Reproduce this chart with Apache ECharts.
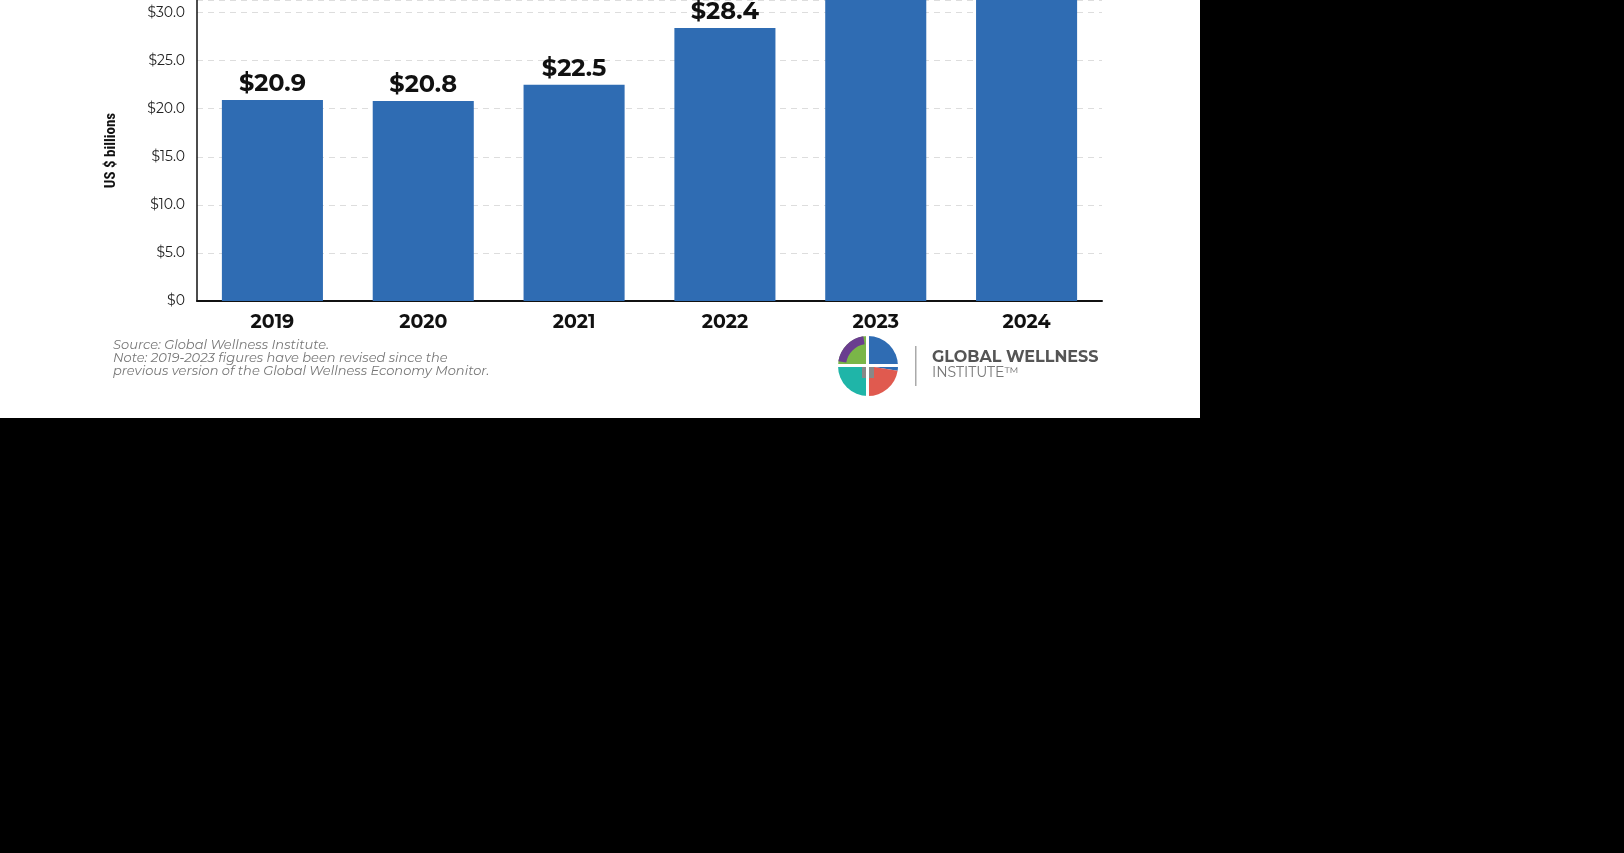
<!DOCTYPE html>
<html>
<head>
<meta charset="utf-8">
<script src="https://cdn.jsdelivr.net/npm/echarts@6/dist/echarts.min.js"></script>
<style>
  html, body { margin: 0; padding: 0; background: #000; width: 1624px; height: 853px; overflow: hidden; }
  #chart { width: 1200px; height: 418px; background: #fff; }
</style>
</head>
<body>
<div id="chart"></div>
<script>
// data (2023/2024 run past the cropped top, estimated)
const years = ["2019", "2020", "2021", "2022", "2023", "2024"];
const spending = [20.9, 20.8, 22.5, 28.4, 34.6, 36.9];
const notes = [
  "Source: Global Wellness Institute.",
  "Note: 2019-2023 figures have been revised since the",
  "previous version of the Global Wellness Economy Monitor."
];

const chart = echarts.init(document.getElementById("chart"));
const font = "Montserrat, 'Open Sans', Lato, sans-serif";

chart.setOption({
  backgroundColor: "#fff",
  animation: false,
  grid: { left: 197, right: 98, top: 0, bottom: 117 },
  xAxis: {
    type: "category",
    data: years,
    axisLine: { lineStyle: { color: "#111", width: 2 } },
    axisTick: { show: false },
    axisLabel: { color: "#111", fontFamily: font, fontWeight: "bold", fontSize: 19, margin: 12 }
  },
  yAxis: {
    type: "value",
    min: 0,
    max: 31.3,
    interval: 5,
    name: "US $ billions",
    nameLocation: "middle",
    nameRotate: 90,
    nameGap: 78,
    nameTextStyle: { color: "#111", fontFamily: "'Roboto Condensed', Roboto, sans-serif", fontWeight: "bold", fontSize: 15, padding: [0, 0, 0, 0] },
    axisLine: { show: true, lineStyle: { color: "#111", width: 1.5 } },
    axisTick: { show: false },
    axisLabel: {
      color: "#222", fontFamily: font, fontSize: 14, margin: 12,
      formatter: v => v === 0 ? "$0" : "$" + v.toFixed(1)
    },
    splitLine: { lineStyle: { color: "#ddd", type: [6, 5], width: 1 } }
  },
  series: [{
    type: "bar",
    data: spending,
    barWidth: "67%",
    itemStyle: { color: "#2f6cb3" },
    label: {
      show: true,
      position: "top",
      distance: 4,
      color: "#111",
      fontFamily: font,
      fontWeight: "bold",
      fontSize: 24,
      formatter: p => "$" + p.value.toFixed(1)
    }
  }],
  graphic: [
    ...notes.map((t, i) => ({
      type: "text", left: 113, top: 339 + i * 13,
      style: { text: t, fill: "#777", font: "italic 13px " + font }
    })),
    // logo
    { type: "sector", shape: { cx: 868, cy: 366, r0: 0, r: 30, startAngle: -Math.PI / 2, endAngle: Math.PI * 0.05 }, style: { fill: "#2f6cb3" } },
    { type: "sector", shape: { cx: 868, cy: 366, r0: 0, r: 30, startAngle: Math.PI, endAngle: Math.PI * 1.5 }, style: { fill: "#7ab648" } },
    { type: "sector", shape: { cx: 868, cy: 366, r0: 22, r: 30, startAngle: Math.PI * 1.05, endAngle: Math.PI * 1.45 }, style: { fill: "#6a3d8f" } },
    { type: "sector", shape: { cx: 868, cy: 366, r0: 0, r: 30, startAngle: Math.PI * 0.5, endAngle: Math.PI }, style: { fill: "#1fb5a8" } },
    { type: "sector", shape: { cx: 868, cy: 366, r0: 0, r: 30, startAngle: Math.PI * 0.05, endAngle: Math.PI * 0.5 }, style: { fill: "#e05a4f" } },
    { type: "rect", shape: { x: 862, y: 366, width: 12, height: 12 }, style: { fill: "#888" } },
    { type: "rect", shape: { x: 838, y: 364, width: 60, height: 3 }, style: { fill: "#fff" } },
    { type: "rect", shape: { x: 866, y: 336, width: 3, height: 60 }, style: { fill: "#fff" } },
    { type: "rect", shape: { x: 915, y: 346, width: 1.5, height: 40 }, style: { fill: "#aaa" } },
    { type: "text", left: 932, top: 349, style: { text: "GLOBAL WELLNESS", fill: "#555", font: "bold 16px " + font } },
    { type: "text", left: 932, top: 366, style: { text: "INSTITUTE\u2122", fill: "#777", font: "14px " + font } }
  ]
});
</script>
</body>
</html>
